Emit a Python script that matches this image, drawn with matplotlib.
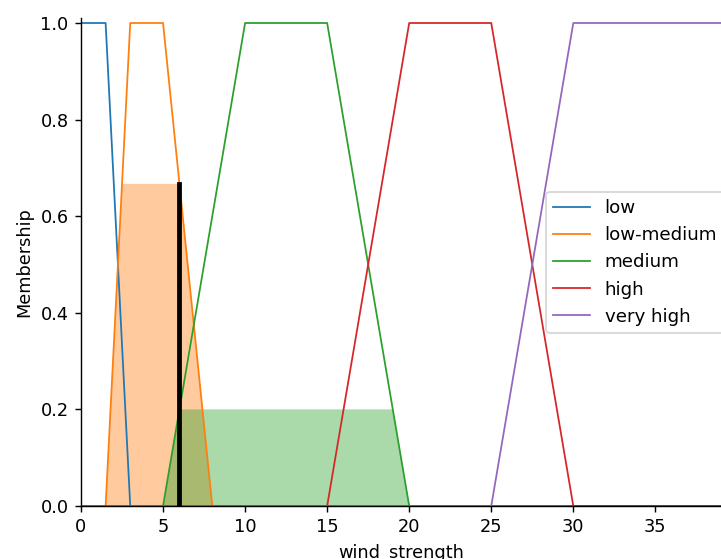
import numpy as np
import matplotlib
matplotlib.use("Agg")
import matplotlib.pyplot as plt

# universe of discourse for wind strength
x_min, x_max, x_step = 0.0, 39.0, 0.05

# trapezoid breakpoints (a, b, c, d) for each term
term_names = ["low", "low-medium", "medium", "high", "very high"]
term_params = [
    (0.0, 0.0, 1.5, 3.0),
    (1.5, 3.0, 5.0, 8.0),
    (5.0, 10.0, 15.0, 20.0),
    (15.0, 20.0, 25.0, 30.0),
    (25.0, 30.0, 39.0, 39.0),
]
term_colors = ["#1f77b4", "#ff7f0e", "#2ca02c", "#d62728", "#9467bd"]

# rule activation per term (clipping level of the output set)
activations = {"low-medium": 0.667, "medium": 0.2}

# defuzzified crisp output
crisp_value = 6.0


def trapmf(x, abcd):
    a, b, c, d = abcd
    y = np.ones_like(x)
    if b > a:
        rise = (x >= a) & (x < b)
        y[rise] = (x[rise] - a) / (b - a)
    y[x < a] = 0.0
    if d > c:
        fall = (x > c) & (x <= d)
        y[fall] = (d - x[fall]) / (d - c)
    y[x > d] = 0.0
    return y


x = np.arange(x_min, x_max + x_step / 2, x_step)
mfs = {name: trapmf(x, p) for name, p in zip(term_names, term_params)}

DPI = 128
W, H = 721, 559
fig = plt.figure(figsize=(W / DPI, H / DPI), dpi=DPI)
ax = fig.add_axes([81 / W, (H - 506) / H, 640 / W, 483 * 1.01 / H])

for name, color in zip(term_names, term_colors):
    ax.plot(x, mfs[name], color=color, lw=1.0, label=name)

zeros = np.zeros_like(x)
aggregate = np.zeros_like(x)
for name, color in zip(term_names, term_colors):
    if name in activations:
        clipped = np.fmin(activations[name], mfs[name])
        aggregate = np.fmax(aggregate, clipped)
        ax.fill_between(x, zeros, clipped, facecolor=color, alpha=0.4)

crisp_height = np.interp(crisp_value, x, aggregate)
ax.plot([crisp_value, crisp_value], [0, crisp_height], color="k", lw=2.7)

ax.set_xlim(x_min, x_max)
ax.set_ylim(0, 1.01)
ax.set_xlabel("wind_strength")
ax.set_ylabel("Membership")
ax.spines["top"].set_visible(False)
ax.spines["right"].set_visible(False)

ax.legend(loc="upper left", bbox_to_anchor=(0.7266, 0.644), borderaxespad=0,
          prop={"size": 10.3})

fig.savefig("out.png", dpi=DPI)
